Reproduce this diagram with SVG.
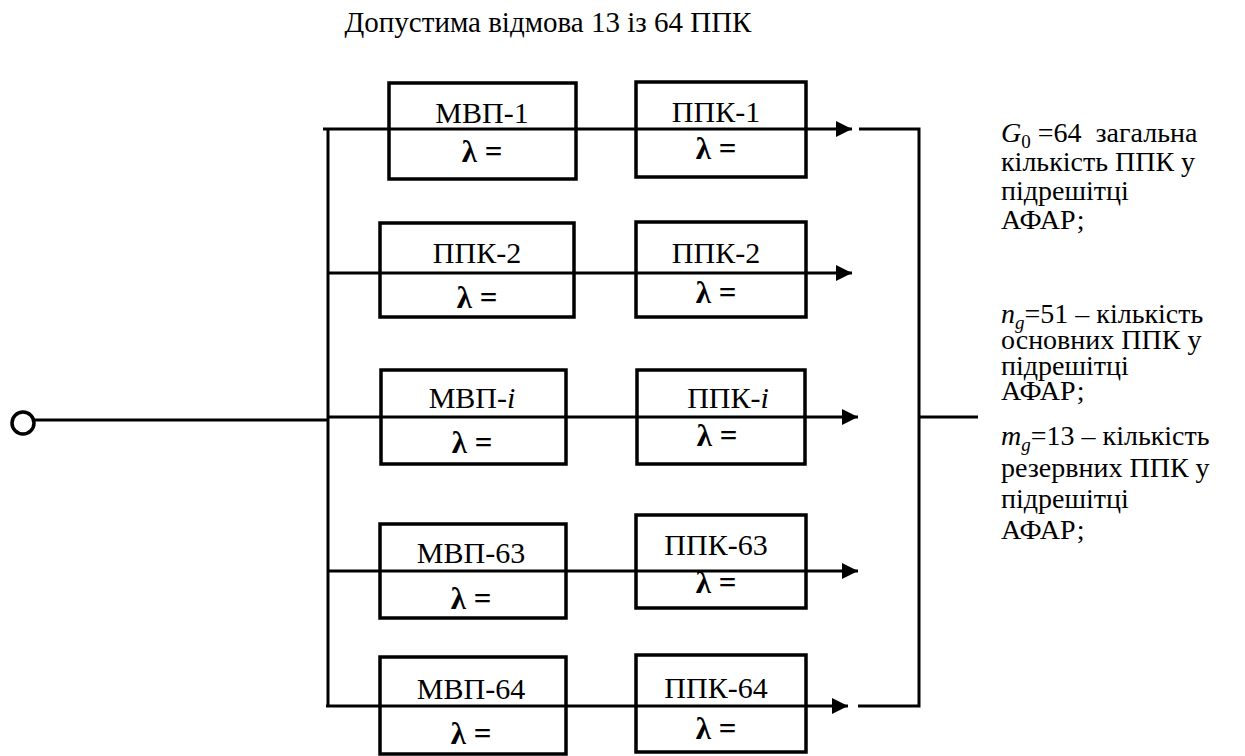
<svg xmlns="http://www.w3.org/2000/svg" width="1245" height="756" viewBox="0 0 1245 756">
<style>
text{font-family:'Liberation Serif','DejaVu Serif',serif;fill:#000}
.box{fill:none;stroke:#000;stroke-width:3.5}
.ln{fill:none;stroke:#000;stroke-width:3}
.lbl{font-size:30px;text-anchor:middle}
.lam{font-size:31px;font-weight:bold;text-anchor:middle}
.txt{font-size:28px}
.it{font-style:italic}
</style>
<defs>
<marker id="arr" viewBox="0 0 16 16" refX="16" refY="8" markerWidth="16" markerHeight="16" markerUnits="userSpaceOnUse" orient="auto">
<path d="M0,0 L16,8 L0,16 Z" fill="#000"/>
</marker>
</defs>
<text x="548" y="32" text-anchor="middle" font-size="29">Допустима відмова 13 із 64 ППК</text>
<g id="connectors">
<circle cx="23" cy="423" r="11" fill="none" stroke="#000" stroke-width="3.5"/>
<line class="ln" x1="34" y1="420" x2="328" y2="420"/>
<line class="ln" x1="328" y1="129" x2="328" y2="707"/>
<line class="ln" x1="323" y1="129" x2="852" y2="129" marker-end="url(#arr)"/>
<line class="ln" x1="328" y1="273" x2="852" y2="273" marker-end="url(#arr)"/>
<line class="ln" x1="328" y1="417" x2="858" y2="417" marker-end="url(#arr)"/>
<line class="ln" x1="328" y1="571" x2="858" y2="571" marker-end="url(#arr)"/>
<line class="ln" x1="326" y1="706" x2="848" y2="706" marker-end="url(#arr)"/>
<polyline class="ln" points="859,129 919,129 919,706 858,706"/>
<line class="ln" x1="919" y1="417" x2="978" y2="417"/>
</g>
<g id="mvp1"><rect class="box" x="389" y="83" width="187" height="96"/><text class="lbl" x="482" y="123">МВП-1</text><text class="lam" x="482" y="162">λ =</text></g>
<g id="ppk1"><rect class="box" x="636" y="82" width="170" height="95"/><text class="lbl" x="716" y="122">ППК-1</text><text class="lam" x="716" y="159">λ =</text></g>
<g id="ppk2a"><rect class="box" x="380" y="223" width="194" height="94"/><text class="lbl" x="477" y="263">ППК-2</text><text class="lam" x="477" y="308">λ =</text></g>
<g id="ppk2b"><rect class="box" x="636" y="222" width="170" height="95"/><text class="lbl" x="716" y="263">ППК-2</text><text class="lam" x="716" y="303">λ =</text></g>
<g id="mvpi"><rect class="box" x="381" y="370" width="185" height="94"/><text class="lbl" x="472" y="408">МВП-<tspan class="it">i</tspan></text><text class="lam" x="472" y="453">λ =</text></g>
<g id="ppki"><rect class="box" x="637" y="370" width="168" height="94"/><text class="lbl" x="728" y="408">ППК-<tspan class="it">i</tspan></text><text class="lam" x="717" y="446">λ =</text></g>
<g id="mvp63"><rect class="box" x="380" y="524" width="186" height="94"/><text class="lbl" x="471" y="563">МВП-63</text><text class="lam" x="471" y="609">λ =</text></g>
<g id="ppk63"><rect class="box" x="636" y="515" width="170" height="93"/><text class="lbl" x="716" y="555">ППК-63</text><text class="lam" x="716" y="593">λ =</text></g>
<g id="mvp64"><rect class="box" x="380" y="657" width="186" height="97"/><text class="lbl" x="471" y="699">МВП-64</text><text class="lam" x="471" y="744">λ =</text></g>
<g id="ppk64"><rect class="box" x="636" y="655" width="170" height="97"/><text class="lbl" x="716" y="698">ППК-64</text><text class="lam" x="716" y="739">λ =</text></g>
<g id="legend">
<text class="txt" x="1001" y="142" xml:space="preserve"><tspan class="it">G</tspan><tspan font-size="19" dy="6">0</tspan><tspan dy="-6"> =64  загальна</tspan></text>
<text class="txt" x="1001" y="171">кількість ППК у</text>
<text class="txt" x="1001" y="200">підрешітці</text>
<text class="txt" x="1001" y="229">АФАР;</text>
<text class="txt" x="1001" y="323"><tspan class="it">n</tspan><tspan class="it" font-size="19" dy="6">g</tspan><tspan dy="-6">=51 – кількість</tspan></text>
<text class="txt" x="1001" y="349">основних ППК у</text>
<text class="txt" x="1001" y="375">підрешітці</text>
<text class="txt" x="1001" y="400">АФАР;</text>
<text class="txt" x="1001" y="445"><tspan class="it">m</tspan><tspan class="it" font-size="19" dy="6">g</tspan><tspan dy="-6">=13 – кількість</tspan></text>
<text class="txt" x="1001" y="477">резервних ППК у</text>
<text class="txt" x="1001" y="508">підрешітці</text>
<text class="txt" x="1001" y="539">АФАР;</text>
</g>
</svg>
